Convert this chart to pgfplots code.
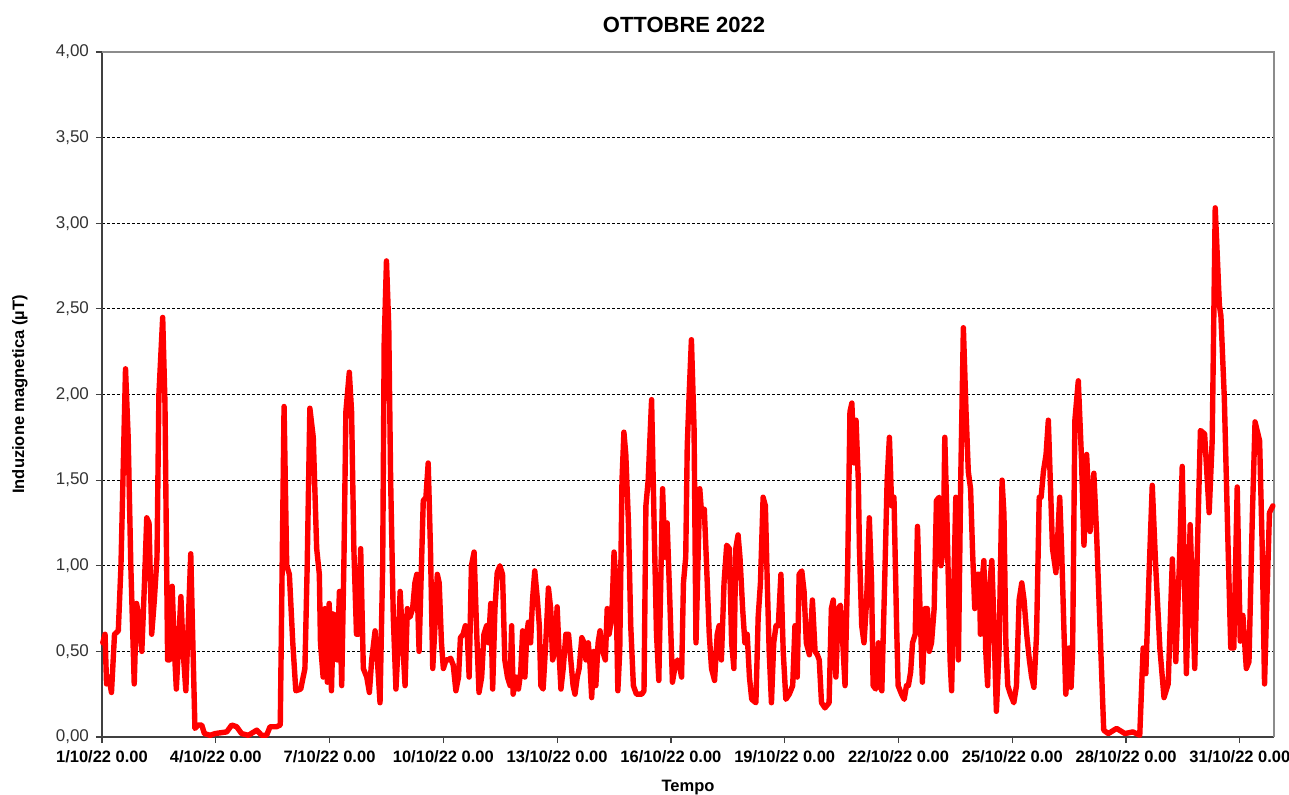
\documentclass[border=0pt]{standalone}
\usepackage{pgfplots}
\usepackage{pgfplotstable}
\usepackage{fontspec}
\setmainfont{Liberation Sans}
\pgfplotsset{compat=1.18}
\pgfplotstableread{
d v
0.02 0.55
0.08 0.60
0.12 0.31
0.18 0.35
0.25 0.26
0.33 0.60
0.43 0.62
0.50 1.00
0.62 2.15
0.69 1.75
0.76 1.00
0.85 0.31
0.91 0.78
0.98 0.70
1.05 0.50
1.12 0.90
1.18 1.28
1.24 1.25
1.31 0.60
1.38 0.80
1.45 1.05
1.50 2.00
1.60 2.45
1.66 1.95
1.73 0.45
1.78 0.45
1.85 0.88
1.91 0.50
1.96 0.28
2.08 0.82
2.14 0.50
2.21 0.27
2.34 1.07
2.39 0.60
2.45 0.05
2.54 0.07
2.63 0.07
2.70 0.02
2.85 0.01
2.98 0.02
3.29 0.03
3.42 0.07
3.55 0.06
3.68 0.02
3.86 0.01
4.08 0.04
4.21 0.01
4.34 0.01
4.43 0.06
4.60 0.06
4.70 0.07
4.80 1.93
4.87 1.00
4.94 0.95
5.03 0.55
5.11 0.27
5.24 0.28
5.35 0.40
5.41 1.00
5.48 1.92
5.57 1.75
5.66 1.10
5.73 0.95
5.76 0.55
5.83 0.35
5.88 0.75
5.94 0.32
5.99 0.78
6.05 0.27
6.10 0.72
6.15 0.70
6.20 0.45
6.26 0.85
6.32 0.30
6.38 1.05
6.43 1.90
6.52 2.13
6.58 1.90
6.64 1.10
6.71 0.60
6.76 0.60
6.82 1.10
6.89 0.40
6.98 0.35
7.05 0.26
7.11 0.45
7.20 0.62
7.26 0.45
7.33 0.20
7.40 1.00
7.44 2.30
7.50 2.78
7.56 2.40
7.61 1.50
7.68 0.70
7.75 0.28
7.81 0.55
7.86 0.85
7.93 0.55
7.99 0.30
8.05 0.75
8.12 0.70
8.19 0.75
8.25 0.90
8.30 0.95
8.36 0.50
8.41 0.90
8.47 1.38
8.54 1.40
8.60 1.60
8.66 1.10
8.72 0.40
8.78 0.65
8.84 0.95
8.89 0.90
8.95 0.55
9.00 0.40
9.07 0.45
9.13 0.45
9.19 0.46
9.26 0.42
9.33 0.27
9.40 0.35
9.45 0.58
9.52 0.60
9.58 0.65
9.63 0.60
9.68 0.35
9.74 1.00
9.81 1.08
9.88 0.60
9.94 0.26
10.01 0.35
10.07 0.60
10.14 0.65
10.19 0.55
10.25 0.78
10.30 0.28
10.36 0.75
10.42 0.96
10.49 1.00
10.56 0.95
10.62 0.45
10.69 0.35
10.76 0.30
10.80 0.65
10.84 0.25
10.91 0.35
10.98 0.28
11.04 0.38
11.09 0.62
11.15 0.35
11.20 0.60
11.24 0.67
11.30 0.55
11.35 0.80
11.41 0.97
11.48 0.80
11.53 0.65
11.57 0.30
11.63 0.28
11.70 0.55
11.77 0.87
11.83 0.75
11.88 0.45
11.94 0.50
12.00 0.76
12.06 0.45
12.10 0.28
12.16 0.40
12.23 0.60
12.30 0.60
12.36 0.45
12.42 0.30
12.47 0.25
12.53 0.35
12.58 0.40
12.65 0.58
12.71 0.55
12.76 0.45
12.82 0.55
12.86 0.45
12.91 0.23
12.97 0.50
13.02 0.30
13.08 0.55
13.13 0.62
13.20 0.50
13.27 0.45
13.32 0.75
13.37 0.60
13.44 0.70
13.50 1.08
13.55 0.90
13.60 0.27
13.65 0.50
13.71 1.50
13.76 1.78
13.81 1.65
13.88 1.25
13.94 0.65
14.01 0.30
14.09 0.25
14.23 0.25
14.29 0.27
14.34 1.35
14.40 1.50
14.49 1.97
14.56 1.20
14.62 0.60
14.68 0.33
14.74 1.00
14.78 1.45
14.84 1.05
14.90 1.25
14.97 0.80
15.04 0.32
15.10 0.40
15.17 0.45
15.24 0.40
15.28 0.35
15.33 0.90
15.39 1.05
15.43 1.70
15.48 2.00
15.54 2.32
15.61 1.80
15.66 0.55
15.70 0.90
15.76 1.45
15.81 1.30
15.88 1.33
15.94 1.00
16.01 0.60
16.07 0.40
16.15 0.33
16.22 0.60
16.27 0.65
16.33 0.45
16.40 0.90
16.47 1.12
16.54 1.10
16.60 0.55
16.66 0.40
16.71 1.10
16.77 1.18
16.82 1.05
16.89 0.75
16.95 0.55
17.01 0.60
17.07 0.35
17.13 0.22
17.24 0.20
17.30 0.70
17.36 0.90
17.43 1.40
17.49 1.35
17.54 0.90
17.59 0.50
17.65 0.20
17.71 0.55
17.77 0.65
17.83 0.65
17.90 0.95
17.96 0.50
18.03 0.22
18.12 0.25
18.21 0.30
18.27 0.65
18.33 0.35
18.38 0.95
18.45 0.97
18.51 0.85
18.57 0.55
18.65 0.48
18.73 0.80
18.80 0.50
18.86 0.48
18.91 0.45
18.97 0.20
19.06 0.17
19.17 0.20
19.23 0.75
19.28 0.80
19.35 0.35
19.41 0.75
19.47 0.77
19.53 0.55
19.59 0.30
19.66 1.00
19.72 1.90
19.77 1.95
19.83 1.60
19.88 1.85
19.94 1.50
19.97 1.10
20.03 0.65
20.09 0.55
20.16 0.80
20.23 1.28
20.29 0.90
20.33 0.30
20.40 0.28
20.47 0.55
20.51 0.30
20.56 0.27
20.64 0.95
20.70 1.50
20.76 1.75
20.82 1.35
20.88 1.40
20.95 0.65
20.99 0.30
21.08 0.25
21.15 0.22
21.21 0.30
21.26 0.30
21.32 0.38
21.37 0.55
21.44 0.60
21.50 1.23
21.56 0.80
21.63 0.32
21.70 0.75
21.76 0.75
21.81 0.50
21.87 0.55
21.94 0.75
22.00 1.38
22.07 1.40
22.12 1.00
22.18 1.10
22.22 1.75
22.28 1.25
22.36 0.45
22.40 0.27
22.46 0.90
22.51 1.40
22.58 0.45
22.64 1.50
22.71 2.39
22.78 1.90
22.84 1.55
22.90 1.45
22.95 1.10
23.01 0.75
23.08 0.95
23.13 0.95
23.16 0.60
23.22 0.95
23.25 1.03
23.30 0.50
23.35 0.30
23.41 0.90
23.46 1.03
23.51 0.70
23.58 0.15
23.65 0.50
23.73 1.50
23.78 1.30
23.83 0.55
23.88 0.30
23.95 0.25
24.04 0.20
24.11 0.30
24.18 0.80
24.25 0.90
24.31 0.80
24.38 0.60
24.45 0.45
24.51 0.35
24.57 0.29
24.64 0.60
24.71 1.40
24.76 1.40
24.82 1.55
24.89 1.65
24.95 1.85
25.06 1.10
25.15 0.96
25.25 1.40
25.30 1.10
25.41 0.25
25.50 0.52
25.55 0.29
25.59 0.50
25.65 1.85
25.74 2.08
25.82 1.65
25.89 1.12
25.96 1.65
26.05 1.20
26.15 1.54
26.22 1.20
26.41 0.04
26.53 0.02
26.75 0.05
26.97 0.02
27.18 0.03
27.36 0.01
27.45 0.52
27.52 0.37
27.61 0.98
27.69 1.47
27.78 1.00
27.89 0.52
28.00 0.23
28.11 0.31
28.22 1.04
28.31 0.44
28.40 0.98
28.48 1.58
28.59 0.37
28.69 1.24
28.81 0.40
28.88 1.10
28.96 1.79
29.07 1.77
29.19 1.31
29.27 1.73
29.35 3.09
29.46 2.52
29.50 2.46
29.59 1.98
29.69 1.10
29.76 0.52
29.84 0.52
29.93 1.46
30.01 0.56
30.08 0.71
30.17 0.40
30.24 0.44
30.33 1.30
30.40 1.84
30.52 1.73
30.59 1.10
30.65 0.31
30.71 0.79
30.78 1.31
30.87 1.35
}\datatable
\begin{document}
\begin{tikzpicture}
\path[use as bounding box] (-51pt,-28.5pt) rectangle (593.5pt,368.5pt);
\begin{axis}[
  at={(0,0)}, anchor=south west,
  scale only axis,
  width=586pt, height=342.5pt,
  xmin=0, xmax=30.9,
  ymin=0, ymax=4,
  axis lines=left,
  axis line style={-, black!75, line width=0.8pt},
  clip=false,
  xtick={0,3,...,30},
  xticklabels={1/10/22 0.00,4/10/22 0.00,7/10/22 0.00,10/10/22 0.00,13/10/22 0.00,16/10/22 0.00,19/10/22 0.00,22/10/22 0.00,25/10/22 0.00,28/10/22 0.00,31/10/22 0.00},
  ytick={0,0.5,...,4},
  tick align=outside,
  major tick length=3pt,
  tick style={black!75, line width=0.6pt},
  ymajorgrids,
  grid style={black, line width=0.4pt, dash pattern=on 1.5pt off 1pt},
  yticklabel style={font=\fontsize{8.5}{10}\selectfont, text=black!80},
  xticklabel style={font=\bfseries\fontsize{8.25}{10}\selectfont, text=black},
  /pgf/number format/.cd, fixed, fixed zerofill, precision=2, use comma, assume math mode=true,
  /pgfplots/.cd,
  title={OTTOBRE 2022},
  every axis title/.style={at={(axis description cs:0.5,1)}, anchor=center, yshift=13.5pt, xshift=-2pt, font=\bfseries\fontsize{11}{13}\selectfont},
  xlabel={Tempo},
  every axis x label/.style={at={(axis description cs:0.5,0)}, anchor=center, yshift=-25.5pt, font=\bfseries\fontsize{8.25}{10}\selectfont},
  ylabel={Induzione magnetica (µT)},
  every axis y label/.style={at={(axis description cs:-0.07,0.5)}, rotate=90, anchor=center, font=\bfseries\fontsize{8.25}{10}\selectfont},
]
\draw[black!45, line width=0.6pt] (rel axis cs:0,1) -- (rel axis cs:1,1) -- (rel axis cs:1,0);
\addplot[red, line width=2.7pt, line join=round, line cap=round] table[x=d, y=v] {\datatable};
\end{axis}
\end{tikzpicture}
\end{document}
